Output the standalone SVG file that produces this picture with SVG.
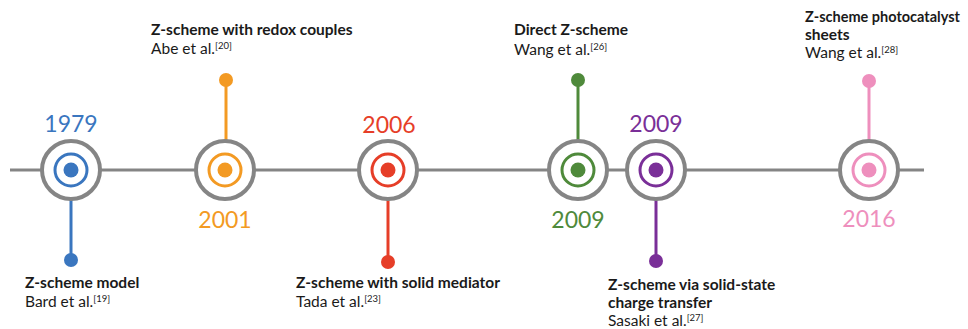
<svg xmlns="http://www.w3.org/2000/svg" width="968" height="329" viewBox="0 0 968 329">
<style>
.outer{fill:#fff;stroke:#858585;stroke-width:4}
.ring{fill:none;stroke-width:3}
.axis{stroke:#858585;stroke-width:3}
.stem{stroke-width:3}
.year{font-family:Lato,"Open Sans",sans-serif;font-size:23px;text-anchor:middle}
.title{font-family:Lato,"Open Sans",sans-serif;font-size:15.5px;font-weight:bold;fill:#1a1a1a}
.auth{font-family:Lato,"Open Sans",sans-serif;font-size:15.5px;fill:#1a1a1a}
.sup{font-size:9.5px}
</style>
<g id="connectors">
<line class="axis" x1="10" y1="170" x2="924" y2="170"/>
<line class="stem" x1="71" y1="200" x2="71" y2="260" stroke="#3a76bf"/>
<line class="stem" x1="226" y1="140" x2="226" y2="80" stroke="#f39a23"/>
<line class="stem" x1="388" y1="200" x2="388" y2="262" stroke="#e63e28"/>
<line class="stem" x1="578" y1="140" x2="578" y2="80" stroke="#4f8a3b"/>
<line class="stem" x1="656" y1="200" x2="656" y2="261" stroke="#7a2f98"/>
<line class="stem" x1="869" y1="140" x2="869" y2="81" stroke="#ee8fbd"/>
</g>
<g id="n1979">
<circle class="outer" cx="71" cy="170" r="29"/>
<circle class="ring" cx="71" cy="170" r="16" stroke="#3a76bf"/>
<circle cx="71" cy="170" r="7.5" fill="#3a76bf"/>
<circle cx="71" cy="260" r="7" fill="#3a76bf"/>
<text class="year" x="71" y="132" fill="#3a76bf">1979</text>
<text class="title" x="25" y="288">Z-scheme model</text>
<text class="auth" x="25" y="307">Bard et al.<tspan class="sup" dy="-5">[19]</tspan></text>
</g>
<g id="n2001">
<circle class="outer" cx="225" cy="170" r="29"/>
<circle class="ring" cx="225" cy="170" r="16" stroke="#f39a23"/>
<circle cx="225" cy="170" r="7.5" fill="#f39a23"/>
<circle cx="226" cy="80" r="7" fill="#f39a23"/>
<text class="year" x="225" y="228" fill="#f39a23">2001</text>
<text class="title" x="151" y="35">Z-scheme with redox couples</text>
<text class="auth" x="151" y="54">Abe et al.<tspan class="sup" dy="-5">[20]</tspan></text>
</g>
<g id="n2006">
<circle class="outer" cx="388" cy="170" r="29"/>
<circle class="ring" cx="388" cy="170" r="16" stroke="#e63e28"/>
<circle cx="388" cy="170" r="7.5" fill="#e63e28"/>
<circle cx="388" cy="262" r="7" fill="#e63e28"/>
<text class="year" x="389" y="133" fill="#e63e28">2006</text>
<text class="title" x="296" y="288">Z-scheme with solid mediator</text>
<text class="auth" x="296" y="307">Tada et al.<tspan class="sup" dy="-5">[23]</tspan></text>
</g>
<g id="n2009a">
<circle class="outer" cx="578" cy="170" r="29"/>
<circle class="ring" cx="578" cy="170" r="16" stroke="#4f8a3b"/>
<circle cx="578" cy="170" r="7.5" fill="#4f8a3b"/>
<circle cx="578" cy="80" r="7" fill="#4f8a3b"/>
<text class="year" x="578" y="228" fill="#4f8a3b">2009</text>
<text class="title" x="514" y="35">Direct Z-scheme</text>
<text class="auth" x="514" y="55">Wang et al.<tspan class="sup" dy="-5">[26]</tspan></text>
</g>
<g id="n2009b">
<circle class="outer" cx="656" cy="170" r="29"/>
<circle class="ring" cx="656" cy="170" r="16" stroke="#7a2f98"/>
<circle cx="656" cy="170" r="7.5" fill="#7a2f98"/>
<circle cx="656" cy="261" r="7" fill="#7a2f98"/>
<text class="year" x="656" y="132" fill="#7a2f98">2009</text>
<text class="title" x="608" y="290">Z-scheme via solid-state</text>
<text class="title" x="608" y="308">charge transfer</text>
<text class="auth" x="608" y="326">Sasaki et al.<tspan class="sup" dy="-5">[27]</tspan></text>
</g>
<g id="n2016">
<circle class="outer" cx="869" cy="170" r="29"/>
<circle class="ring" cx="869" cy="170" r="16" stroke="#ee8fbd"/>
<circle cx="869" cy="170" r="7.5" fill="#ee8fbd"/>
<circle cx="869" cy="81" r="7" fill="#ee8fbd"/>
<text class="year" x="869" y="227" fill="#ee8fbd">2016</text>
<text class="title" x="805" y="22" style="font-size:14.5px">Z-scheme photocatalyst</text>
<text class="title" x="805" y="40">sheets</text>
<text class="auth" x="805" y="58">Wang et al.<tspan class="sup" dy="-5">[28]</tspan></text>
</g>
</svg>
